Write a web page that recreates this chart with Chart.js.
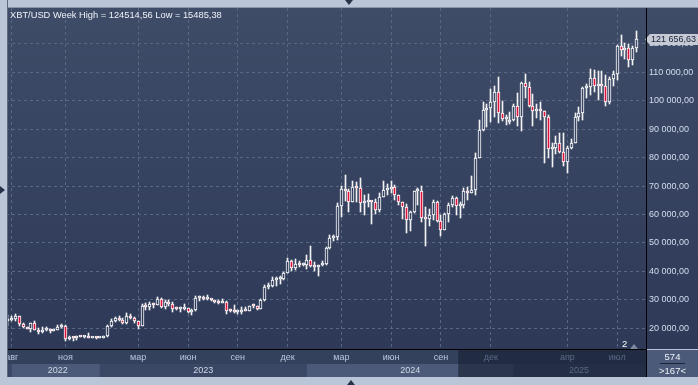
<!DOCTYPE html>
<html><head><meta charset="utf-8">
<script src="https://cdn.jsdelivr.net/npm/chart.js"></script>
<style>
html,body{margin:0;padding:0;background:#bac6d7;}
#root{position:relative;width:698px;height:385px;overflow:hidden;font-family:"Liberation Sans",Arial,sans-serif;}
canvas{position:absolute;left:0;top:0;}
.abs{position:absolute;}
#fTop{left:0;top:0;width:698px;height:7px;background:#bac6d7;border-bottom:1px solid #8a97ac;}
#fLeft{left:0;top:0;width:7px;height:385px;background:#bac6d7;border-right:1px solid #5f6b83;}
#fBottom{left:0;top:377px;width:698px;height:8px;background:#bac6d7;}
#lineH{left:8px;top:349px;width:638px;height:1px;background:#000;}
#lineV{left:646px;top:8px;width:1px;height:369px;background:#000;}
#title{left:10px;top:10px;font-size:9.3px;line-height:11px;color:#eef2f8;white-space:nowrap;}
#corner{left:647px;top:350px;width:51px;height:27px;background:#4a5a78;color:#eef2f8;font-size:9.5px;text-align:center;}
#corner .a{position:absolute;left:0;width:51px;top:1px;line-height:11px;}
#corner .u{position:absolute;left:13px;width:25px;top:13px;height:1px;background:#1c2539;}
#corner .b{position:absolute;left:0;width:51px;top:15px;line-height:11px;}
#mk2{left:622px;top:339px;font-size:9.5px;line-height:10px;color:#fff;}
#mkTri{left:630px;top:344px;width:0;height:0;border-left:4px solid transparent;border-right:4px solid transparent;border-bottom:5px solid #7d8aa2;}
#triTop{left:345px;top:0;width:0;height:0;border-left:4px solid transparent;border-right:4px solid transparent;border-top:5px solid #27314a;}
#triBot{left:347px;top:380px;width:0;height:0;border-left:4px solid transparent;border-right:4px solid transparent;border-bottom:5px solid #27314a;}
#triLeft{left:0;top:186px;width:0;height:0;border-top:4px solid transparent;border-bottom:4px solid transparent;border-left:5px solid #27314a;}
</style></head>
<body>
<div id="root">
<canvas id="c" width="698" height="385"></canvas>
<div id="fTop" class="abs"></div>
<div id="fLeft" class="abs"></div>
<div id="fBottom" class="abs"></div>
<div id="lineH" class="abs"></div>
<div id="lineV" class="abs"></div>
<div id="title" class="abs"></div>
<div id="corner" class="abs"><div class="a">574</div><div class="u"></div><div class="b">&gt;167&lt;</div></div>
<div id="mk2" class="abs">2</div>
<div id="mkTri" class="abs"></div>
<div id="triTop" class="abs"></div>
<div id="triBot" class="abs"></div>
<div id="triLeft" class="abs"></div>
</div>
<script>
// ---------- data (weekly bars as drawn in the reference) ----------
const barDates = [
'2022-07-25','2022-08-01','2022-08-08','2022-08-15','2022-08-22','2022-08-29','2022-09-05','2022-09-12','2022-09-19','2022-09-26',
'2022-10-03','2022-10-10','2022-10-17','2022-10-24','2022-10-31','2022-11-07','2022-11-14','2022-11-21','2022-11-28','2022-12-01',
'2022-12-05','2022-12-12','2022-12-19','2022-12-26','2023-01-01','2023-01-02','2023-01-09','2023-01-16','2023-01-23','2023-01-30',
'2023-02-06','2023-02-13','2023-02-20','2023-02-27','2023-03-06','2023-03-13','2023-03-20','2023-03-27','2023-04-03','2023-04-10',
'2023-04-17','2023-04-24','2023-05-01','2023-05-08','2023-05-15','2023-05-22','2023-05-29','2023-06-05','2023-06-12','2023-06-19',
'2023-06-26','2023-07-03','2023-07-10','2023-07-17','2023-07-24','2023-07-31','2023-08-07','2023-08-14','2023-08-21','2023-08-28',
'2023-09-04','2023-09-11','2023-09-18','2023-09-25','2023-10-02','2023-10-09','2023-10-16','2023-10-23','2023-10-30','2023-11-06',
'2023-11-13','2023-11-20','2023-11-27','2023-12-04','2023-12-11','2023-12-18','2023-12-25','2023-12-31','2024-01-01','2024-01-08',
'2024-01-15','2024-01-22','2024-01-29','2024-02-05','2024-02-12','2024-02-19','2024-02-26','2024-03-04','2024-03-11','2024-03-18',
'2024-03-25','2024-04-01','2024-04-08','2024-04-15','2024-04-22','2024-04-29','2024-05-06','2024-05-13','2024-05-20','2024-05-27',
'2024-06-03','2024-06-10','2024-06-17','2024-06-24','2024-07-01','2024-07-08','2024-07-15','2024-07-22','2024-07-29','2024-08-05',
'2024-08-12','2024-08-19','2024-08-26','2024-09-02','2024-09-09','2024-09-16','2024-09-23','2024-09-30','2024-10-07','2024-10-14',
'2024-10-21','2024-10-28','2024-11-04','2024-11-11','2024-11-18','2024-11-25','2024-12-02','2024-12-09','2024-12-16','2024-12-23',
'2024-12-30','2024-12-31','2025-01-01','2025-01-06','2025-01-13','2025-01-20','2025-01-27','2025-02-03','2025-02-10','2025-02-17',
'2025-02-24','2025-03-03','2025-03-10','2025-03-17','2025-03-24','2025-03-31','2025-04-07','2025-04-14','2025-04-21','2025-04-28',
'2025-05-05','2025-05-12','2025-05-19','2025-05-26','2025-06-02','2025-06-09','2025-06-16','2025-06-23','2025-06-30','2025-07-07',
'2025-07-14','2025-07-21','2025-07-28','2025-08-04','2025-08-11'];

const opens = [
22600,23000,23300,24400,21500,20300,19800,21800,19400,18800,
19300,19450,19050,19550,20600,20900,16300,16450,16430,17170,
17100,17100,16750,16840,16550,16620,17130,20880,22700,23750,
22930,21780,24300,23550,22400,20950,27980,27480,28450,28330,
30300,27600,29250,28700,26780,26750,26850,27100,25850,26340,
30480,30600,30170,30250,29900,29280,29040,29300,26100,26000,
25850,25850,26530,26250,27960,27950,26850,29950,34500,35000,
37050,37400,37450,39450,43800,41350,42600,42100,42300,43950,
41750,41600,42100,42600,48300,51700,52100,63100,68900,68400,
64300,69600,69300,63900,64300,64600,64400,61500,66300,68600,
69000,69800,66700,64300,62700,58000,60800,68200,68300,58900,
58300,59800,64500,57600,54500,60100,63300,65700,63000,63200,
68400,67700,68700,80000,89700,96900,97400,99700,103200,95600,
93500,92600,93400,98200,94400,106100,105000,98000,96500,97000,
96300,94300,82900,83300,85000,82100,78600,83300,85000,94300,
95800,104400,104800,107900,105200,106000,105100,99400,107800,109300,
119200,118000,118600,114300,118400];

const highs = [
24650,24250,25200,24450,21900,20600,21850,22700,19950,20350,
20480,19650,19700,21000,21450,21050,17150,16700,17250,17400,
17450,18400,17000,16950,16650,17300,21300,23380,23900,24250,
23450,25250,25100,23900,22600,28400,28900,29200,28800,31000,
30500,30000,29800,29200,27600,27500,28400,27300,26800,31400,
31300,31500,31800,30400,29950,30000,30200,29450,26800,28150,
26400,27400,27450,28000,28600,28000,30300,35200,35950,37950,
37950,38400,39900,44700,44000,44300,43800,42900,45900,49000,
43200,42300,43800,48500,52800,52800,64000,70000,73800,68900,
71700,71400,72800,66800,67200,64700,65500,67700,71900,70600,
71900,70200,67000,64500,63800,61300,68400,69400,70000,62700,
61800,65000,64900,59800,60600,64100,66500,66000,64500,69400,
69500,73600,81500,93400,99600,98700,104000,105200,108300,99900,
95000,96200,99000,102700,106500,109400,106500,102500,98800,99500,
96500,95000,85300,87500,88800,88500,84000,86500,95600,97900,
104700,105800,111000,110700,110500,110600,108900,108500,110500,119500,
123200,120200,119800,119300,124514.56];

const lows = [
20700,22450,22700,20800,20200,19600,18540,19350,18150,18500,
19200,18200,18900,19250,20050,15600,15800,15485.38,16000,16800,
16750,16550,16550,16350,16500,16550,17100,20400,22300,22550,
21450,21400,23150,21950,19600,20800,26600,26550,27200,28300,
27200,26950,27700,25850,26350,25900,26600,25350,24800,26250,
29600,29800,29950,29550,29000,28600,28750,25200,25800,25350,
24900,24950,26000,26000,27200,26550,26800,29700,33950,34600,
34800,35600,36900,39300,40300,40600,41400,41900,40800,41500,
40300,38500,41800,42300,48000,50600,50900,59100,64600,60800,
64300,64500,60800,59700,62800,56500,60200,60800,66000,66800,
67600,65100,63400,58400,53500,54300,60600,63400,57200,49000,
56100,57900,57200,52600,54400,57500,62700,59800,58900,62400,
65100,67400,66800,79800,89300,90800,92500,94200,92200,92700,
91500,91800,92800,91200,89300,101000,97800,91200,94100,93300,
78200,80000,76600,81100,81600,77100,74500,83100,85000,92800,
93400,100800,102000,103100,100400,102600,98200,99000,105100,107400,
115700,114700,112000,112700,117200];

const closes = [
23000,23300,24400,21500,20300,19800,21800,19400,18800,19300,
19450,19050,19550,20600,20900,16300,16450,16430,17170,17100,
17100,16750,16840,16550,16620,17130,20880,22700,23750,22930,
21780,24300,23550,22400,20950,27980,27480,28450,28330,30300,
27600,29250,28700,26780,26750,26850,27100,25850,26340,30480,
30600,30170,30250,29900,29280,29040,29300,26100,26000,25850,
25850,26530,26250,27960,27950,26850,29950,34500,35000,37050,
37400,37450,39450,43800,41350,42600,42100,42300,43950,41750,
41600,42100,42600,48300,51700,52100,63100,68900,68400,64300,
69600,69300,63900,64300,64600,64400,61500,66300,68600,69000,
69800,66700,64300,62700,58000,60800,68200,68300,58900,58300,
59800,64500,57600,54500,60100,63300,65700,63000,63200,68400,
67700,68700,80000,89700,96900,97400,99700,103200,95600,93500,
94100,93400,98200,94400,106100,105000,98000,96500,97000,96300,
94300,82900,83300,85000,82100,78600,83300,85000,94300,95800,
104400,104800,107900,105200,106000,105100,99400,107800,109300,119200,
118000,118600,114300,118400,121656.63];

const emptySlots = ['', ''];                 // free slots right of the last bar
const monthTickIdx  = [1, 15, 34, 47, 60, 73, 87, 100, 113, 126, 146, 159];
const monthTickText = ['авг','ноя','мар','июн','сен','дек','мар','июн','сен','дек','апр','июл'];
const yearBandStart = [1, 24, 78, 132];
const yearTickIdx   = [13, 51, 105, 149];
const yearTickText  = ['2022','2023','2024','2025'];
const yTickValues   = [20000,30000,40000,50000,60000,70000,80000,90000,100000,110000,120000];
const dimFromIdx = 118;
const symbol = 'XBT/USD', period = 'Week';

// ---------- styles ----------
const plotTop = '#3f4c68', plotBottom = '#2d3957';
const gridColor = '#596783';
const upBorder = '#ffffff', downFill = '#dc143c', wickColor = '#f2f2f2';
const monthRowBg = '#34415d', bandLight = '#4b5a78', bandDark = '#3a4765';
const dimOverlay = 'rgba(18,25,42,0.55)';
const FONT = '"Liberation Sans", Arial, sans-serif';

function fmtNum(v){
  const p = v.toFixed(2).split('.');
  return p[0].replace(/\B(?=(\d{3})+(?!\d))/g,' ') + ',' + p[1];
}
document.getElementById('title').textContent =
  symbol + ' ' + period + ' High = ' + Math.max(...highs).toFixed(2).replace('.', ',') +
  ' Low = ' + Math.min(...lows).toFixed(2).replace('.', ',');

let grad = null;
function plotGrad(chart){
  const a = chart.chartArea;
  if (!a) return plotBottom;
  if (!grad || grad._t !== a.top || grad._b !== a.bottom){
    grad = chart.ctx.createLinearGradient(0, a.top, 0, a.bottom);
    grad.addColorStop(0, plotTop); grad.addColorStop(1, plotBottom);
    grad._t = a.top; grad._b = a.bottom;
  }
  return grad;
}

const decor = {
  id: 'decor',
  beforeDraw(chart){
    const {ctx, chartArea:a, scales:{x, x2}} = chart;
    ctx.save();
    ctx.fillStyle = plotGrad(chart);
    ctx.fillRect(0, a.top, chart.width, a.bottom - a.top);
    ctx.fillStyle = monthRowBg;
    ctx.fillRect(0, x.top, a.right, x.height);
    ctx.fillStyle = bandDark;
    ctx.fillRect(0, x2.top, a.right, x2.height);
    yearBandStart.forEach((s, i) => {
      const x0 = x.getPixelForValue(s);
      const x1 = i + 1 < yearBandStart.length ? x.getPixelForValue(yearBandStart[i+1]) : a.right;
      ctx.fillStyle = i % 2 === 0 ? bandLight : bandDark;
      ctx.fillRect(x0, x2.top, x1 - x0, x2.height);
    });
    const half = (x.getPixelForValue(1) - x.getPixelForValue(0)) / 2;
    const dx = x.getPixelForValue(dimFromIdx) - half;
    ctx.fillStyle = dimOverlay;
    ctx.fillRect(dx, x.top, a.right - dx, x2.bottom - x.top);
    ctx.restore();
  },
  beforeDatasetsDraw(chart){
    chart.data.datasets.forEach((d, i) => {
      chart.getDatasetMeta(i).data.forEach(el => {
        el.x = Math.floor(el.x) + 0.5;
        el.y = Math.round(el.y);
        el.base = Math.round(el.base);
      });
    });
  },
  afterDraw(chart){
    const {ctx, scales:{y}} = chart;
    const last = closes[closes.length - 1];
    const py = Math.round(y.getPixelForValue(last)) + 0.5;
    ctx.save();
    ctx.fillStyle = '#c5cad4';
    ctx.beginPath();
    ctx.moveTo(645, py); ctx.lineTo(650, py - 5.5); ctx.lineTo(698, py - 5.5);
    ctx.lineTo(698, py + 5.5); ctx.lineTo(650, py + 5.5); ctx.closePath(); ctx.fill();
    ctx.fillStyle = '#18203a';
    ctx.font = '9px ' + FONT;
    ctx.textBaseline = 'middle';
    ctx.fillText(fmtNum(last), 651, py + 0.5);
    ctx.restore();
  }
};

const labels = barDates.concat(emptySlots);
const isUp = i => closes[i] >= opens[i];

new Chart(document.getElementById('c'), {
  type: 'bar',
  data: {
    labels,
    datasets: [
      { label: 'wick', data: lows.map((l, i) => [l, highs[i]]),
        backgroundColor: wickColor, barThickness: 1, grouped: false, order: 2 },
      { label: 'body', data: opens.map((o, i) => [Math.min(o, closes[i]), Math.max(o, closes[i])]),
        backgroundColor: c => (c.type === 'data' && !isUp(c.dataIndex)) ? downFill : plotGrad(c.chart),
        borderColor: upBorder, borderWidth: 1, borderSkipped: false,
        barThickness: 3, minBarLength: 2, grouped: false, order: 1 }
    ]
  },
  options: {
    responsive: false, animation: false, devicePixelRatio: 1, events: [],
    layout: { padding: { left: 6, top: 8, right: 0, bottom: 8 } },
    plugins: { legend: { display: false }, tooltip: { enabled: false }, title: { display: false } },
    scales: {
      x: {
        type: 'category', position: 'bottom', offset: true, weight: 0,
        grid: { offset: false, drawTicks: false, lineWidth: 1,
          color: c => monthTickIdx.includes(c.index) ? gridColor : 'rgba(0,0,0,0)' },
        border: { display: false, dash: [3, 3] },
        ticks: { autoSkip: false, maxRotation: 0, minRotation: 0, padding: 3,
          font: { family: FONT, size: 9 },
          color: c => c.index >= dimFromIdx ? '#5b6a87' : '#b9c7de',
          callback: (v, i) => { const j = monthTickIdx.indexOf(i); return j >= 0 ? monthTickText[j] : ''; } },
        afterFit: s => { s.height = 15; s.paddingLeft = 0; s.paddingRight = 0; }
      },
      x2: {
        type: 'category', position: 'bottom', offset: true, weight: 1,
        grid: { display: false, drawTicks: false }, border: { display: false },
        ticks: { autoSkip: false, maxRotation: 0, minRotation: 0, padding: 1,
          font: { family: FONT, size: 9 },
          color: c => c.index >= dimFromIdx ? '#5b6a87' : '#d0d9e8',
          callback: (v, i) => { const j = yearTickIdx.indexOf(i); return j >= 0 ? yearTickText[j] : ''; } },
        afterFit: s => { s.height = 13; s.paddingLeft = 0; s.paddingRight = 0; }
      },
      y: {
        type: 'linear', position: 'right', min: 12720, max: 132600,
        grid: { drawTicks: false, color: gridColor, lineWidth: 1 },
        border: { display: false, dash: [3, 3] },
        afterBuildTicks: s => { s.ticks = yTickValues.map(v => ({ value: v })); },
        ticks: { padding: 3, font: { family: FONT, size: 9 }, color: '#d3def0',
          callback: v => fmtNum(v) },
        afterFit: s => { s.width = 52; s.paddingTop = 0; s.paddingBottom = 0; }
      }
    }
  },
  plugins: [decor]
});
</script>
</body></html>
